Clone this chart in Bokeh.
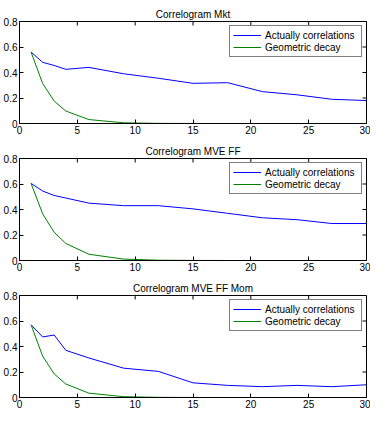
import math
from bokeh.plotting import figure
from bokeh.layouts import column
from bokeh.models import Range1d, FixedTicker, CustomJSTickFormatter, Legend, LegendItem
from bokeh.embed import file_html
from bokeh.resources import INLINE

lags = [1, 2, 3, 4, 6, 9, 12, 15, 18, 21, 24, 27, 30]

titles = ["Correlogram Mkt", "Correlogram MVE FF", "Correlogram MVE FF Mom"]

actual_mkt = [0.56, 0.48, 0.455, 0.425, 0.44, 0.39, 0.355, 0.315, 0.32, 0.25, 0.225, 0.19, 0.18]
geom_mkt = [0.56, 0.314, 0.176, 0.098, 0.031, 0.0055, 0.001, 0.0002, 0.0, 0.0, 0.0, 0.0, 0.0]

actual_ff = [0.605, 0.545, 0.51, 0.49, 0.45, 0.43, 0.43, 0.405, 0.37, 0.335, 0.32, 0.29, 0.29]
geom_ff = [0.605, 0.366, 0.221, 0.134, 0.049, 0.011, 0.0024, 0.0005, 0.0001, 0.0, 0.0, 0.0, 0.0]

actual_mom = [0.57, 0.475, 0.49, 0.37, 0.31, 0.23, 0.205, 0.115, 0.095, 0.085, 0.095, 0.085, 0.10]
geom_mom = [0.57, 0.325, 0.185, 0.106, 0.034, 0.0064, 0.0012, 0.0002, 0.0, 0.0, 0.0, 0.0, 0.0]

actual_series = [actual_mkt, actual_ff, actual_mom]
geom_series = [geom_mkt, geom_ff, geom_mom]

x_ticks = [0, 5, 10, 15, 20, 25, 30]
y_ticks = [0, 0.2, 0.4, 0.6, 0.8]
x_min, x_max = 0, 30
y_min, y_max = 0, 0.8

FONT = "Liberation Sans"

figs = []
for i in range(3):
    p = figure(frame_width=347, height=137, output_backend="svg", toolbar_location=None,
               x_range=Range1d(x_min, x_max), y_range=Range1d(y_min, y_max),
               min_border_left=4, min_border_right=4, min_border_top=21, min_border_bottom=14)
    p.title.text = titles[i]
    p.title.align = "center"
    p.title.text_font = FONT
    p.title.text_font_size = "10px"
    p.title.text_font_style = "normal"
    p.title.text_color = "black"
    p.title.standoff = 4
    p.grid.visible = False
    p.outline_line_color = "black"
    p.outline_line_alpha = 1
    p.background_fill_color = "white"
    p.border_fill_color = "white"

    for ax in (p.xaxis[0], p.yaxis[0]):
        ax.major_tick_in = 4
        ax.major_tick_out = 0
        ax.minor_tick_line_color = None
        ax.axis_line_color = "black"
        ax.major_tick_line_color = "black"
        ax.major_label_text_font = FONT
        ax.major_label_text_font_size = "10px"
        ax.major_label_text_color = "black"
        ax.major_label_standoff = 2
    p.xaxis[0].ticker = FixedTicker(ticks=x_ticks)
    p.yaxis[0].ticker = FixedTicker(ticks=y_ticks)
    p.yaxis[0].formatter = CustomJSTickFormatter(code="return String(Number(tick.toFixed(1)));")

    # mirrored inward ticks on the top and right edges (clipped to the frame)
    p.scatter(x_ticks, [y_max] * len(x_ticks), marker="dash", angle=math.pi / 2,
              size=8, line_color="black", line_width=1)
    p.scatter([x_max] * len(y_ticks), y_ticks, marker="dash",
              size=8, line_color="black", line_width=1)

    r1 = p.line(lags, actual_series[i], line_color="#0000ff", line_width=1)
    r2 = p.line(lags, geom_series[i], line_color="#008000", line_width=1)
    leg = Legend(items=[LegendItem(label="Actually correlations", renderers=[r1]),
                        LegendItem(label="Geometric decay", renderers=[r2])],
                 location="top_right")
    leg.label_text_font = FONT
    leg.label_text_font_size = "10px"
    leg.label_text_color = "black"
    leg.label_height = 12
    leg.label_width = 93
    leg.label_standoff = 4
    leg.glyph_width = 28
    leg.glyph_height = 12
    leg.spacing = 0
    leg.padding = 3
    leg.margin = 4
    leg.border_line_color = "black"
    leg.border_line_width = 1
    leg.background_fill_alpha = 1
    p.add_layout(leg, "center")
    figs.append(p)

layout = column(*figs, spacing=0)
open("out.html", "w").write(file_html(layout, INLINE))
